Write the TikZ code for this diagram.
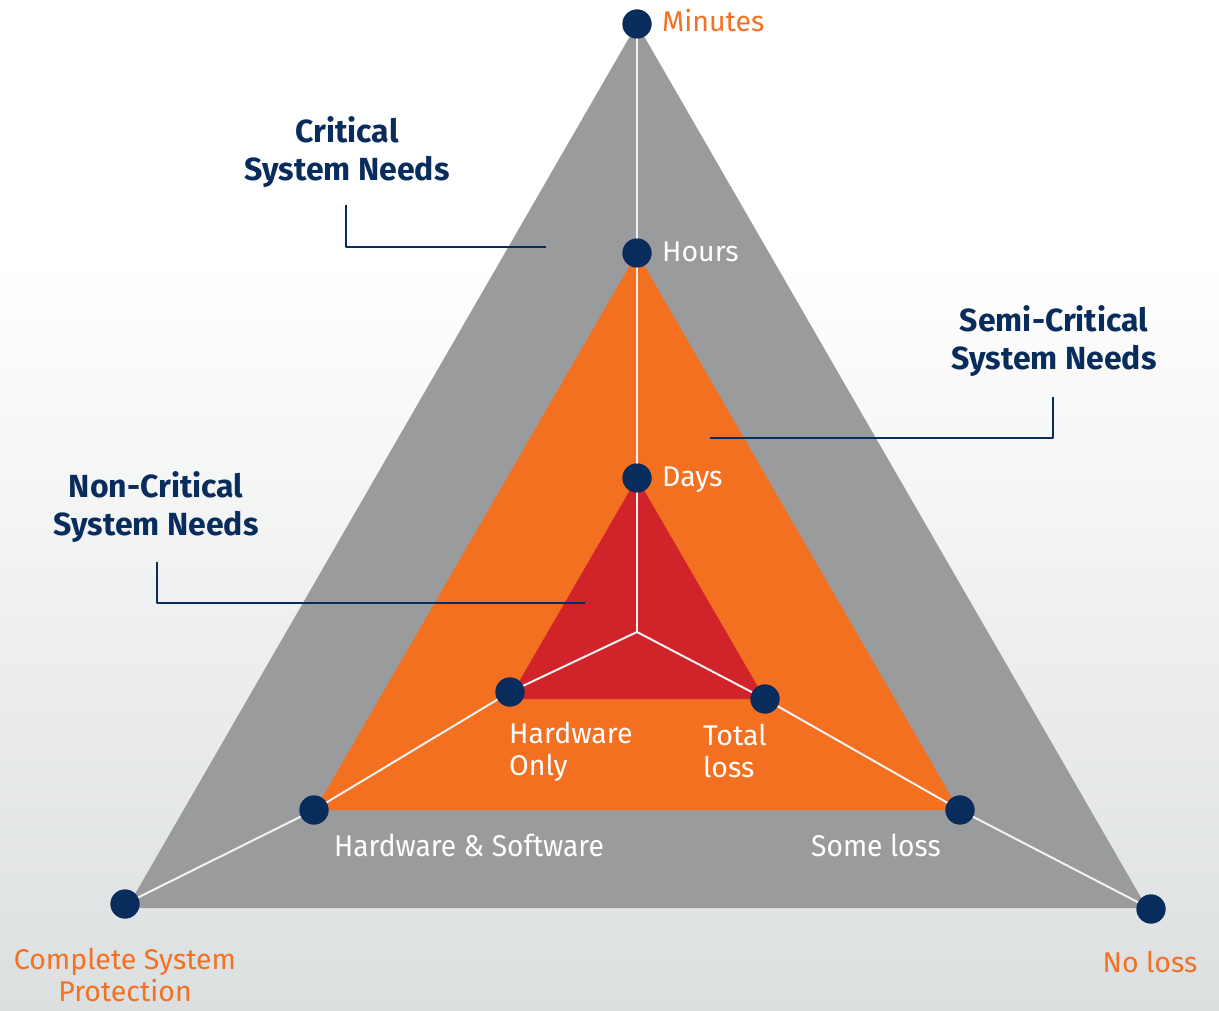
\documentclass[tikz,border=0pt]{standalone}
\usepackage{fontspec}
\usepackage{graphicx}
\setmainfont{Fira Sans}
\usetikzlibrary{positioning}
\definecolor{dotblue}{RGB}{8,44,92}
\definecolor{trigray}{RGB}{154,155,157}
\definecolor{triorange}{RGB}{243,112,33}
\definecolor{trired}{RGB}{209,35,42}
\definecolor{txtorange}{RGB}{242,113,34}
\definecolor{bggray}{RGB}{220,223,224}
\tikzset{
  dot/.style={circle,fill=dotblue,inner sep=0pt,minimum size=29pt},
  axisline/.style={draw=white!90!gray,line width=2pt},
  leader/.style={draw=dotblue,line width=2pt,line cap=butt},
  heading/.style={text=dotblue,font=\bfseries\fontsize{32}{38}\selectfont,align=center,inner sep=0pt},
  scalelabel/.style={font=\fontsize{28.5}{32}\selectfont,inner sep=0pt,align=left},
  narrowlabel/.style={font=\fontsize{30}{32}\selectfont,inner sep=0pt,text=white,anchor=west},
}
\begin{document}
\begin{tikzpicture}[line cap=round,line join=round,x=1pt,y=-1pt]
\useasboundingbox (0,0) rectangle (1219,1011);
% background
\fill[white] (0,0) rectangle (1219,260);
\shade[top color=white,bottom color=bggray] (0,259) rectangle (1219,1011);
% the three zones
\fill[trigray] (637,24) -- (1147,908) -- (127,908) -- cycle;
\fill[triorange] (637,253) -- (959,810) -- (315,810) -- cycle;
\fill[trired] (637,478) -- (765,699) -- (509,699) -- cycle;
% axis points
\coordinate (hub) at (637,632);
\node[dot] (minutes) at (637,24) {};
\node[dot] (hours) at (637,253) {};
\node[dot] (days) at (637,478) {};
\node[dot] (hwonly) at (510,692) {};
\node[dot] (hwsw) at (314,810) {};
\node[dot] (complete) at (125,904) {};
\node[dot] (total) at (765,699) {};
\node[dot] (some) at (960,810) {};
\node[dot] (noloss) at (1151,909) {};
% axes
\draw[axisline] (hub) -- (days) -- (hours) -- (minutes);
\draw[axisline] (hub) -- (hwonly) -- (hwsw) -- (complete);
\draw[axisline] (hub) -- (total) -- (some) -- (noloss);
% redraw dots on top of the axes
\foreach \p in {minutes,hours,days,hwonly,hwsw,complete,total,some,noloss}
  \fill[dotblue] (\p) circle (14.5pt);
% headings with leaders
\node[heading] (crit) at (347,152) {Critical\\System Needs};
\node[heading] (semi) at (1054,341) {Semi-Critical\\System Needs};
\node[heading] (noncrit) at (156,507) {Non-Critical\\System Needs};
\coordinate (critin) at (546,247);
\coordinate (semiin) at (710,438);
\coordinate (noncritin) at (585,603);
\draw[leader] (346,205) |- (critin);
\draw[leader] (1053,397) |- (semiin);
\draw[leader] (157,562) |- (noncritin);
% scale labels
\node[scalelabel,text=txtorange,anchor=west] at (662,21) {Minutes};
\node[scalelabel,text=white,anchor=west] at (662,252) {Hours};
\node[scalelabel,text=white,anchor=west] at (662,480) {Days};
\node[scalelabel,text=white,anchor=west] at (509,752) {Hardware\\Only};
\node[scalelabel,text=white,anchor=west] at (703,751) {Total\\loss};
\node[narrowlabel] at (334,845) {\scalebox{0.94}[1]{Hardware \& Software}};
\node[narrowlabel] at (811,845) {\scalebox{0.94}[1]{Some loss}};
\node[scalelabel,text=txtorange,align=center] at (125,975) {Complete System\\Protection};
\node[scalelabel,text=txtorange] at (1150,962) {No loss};
\end{tikzpicture}
\end{document}
